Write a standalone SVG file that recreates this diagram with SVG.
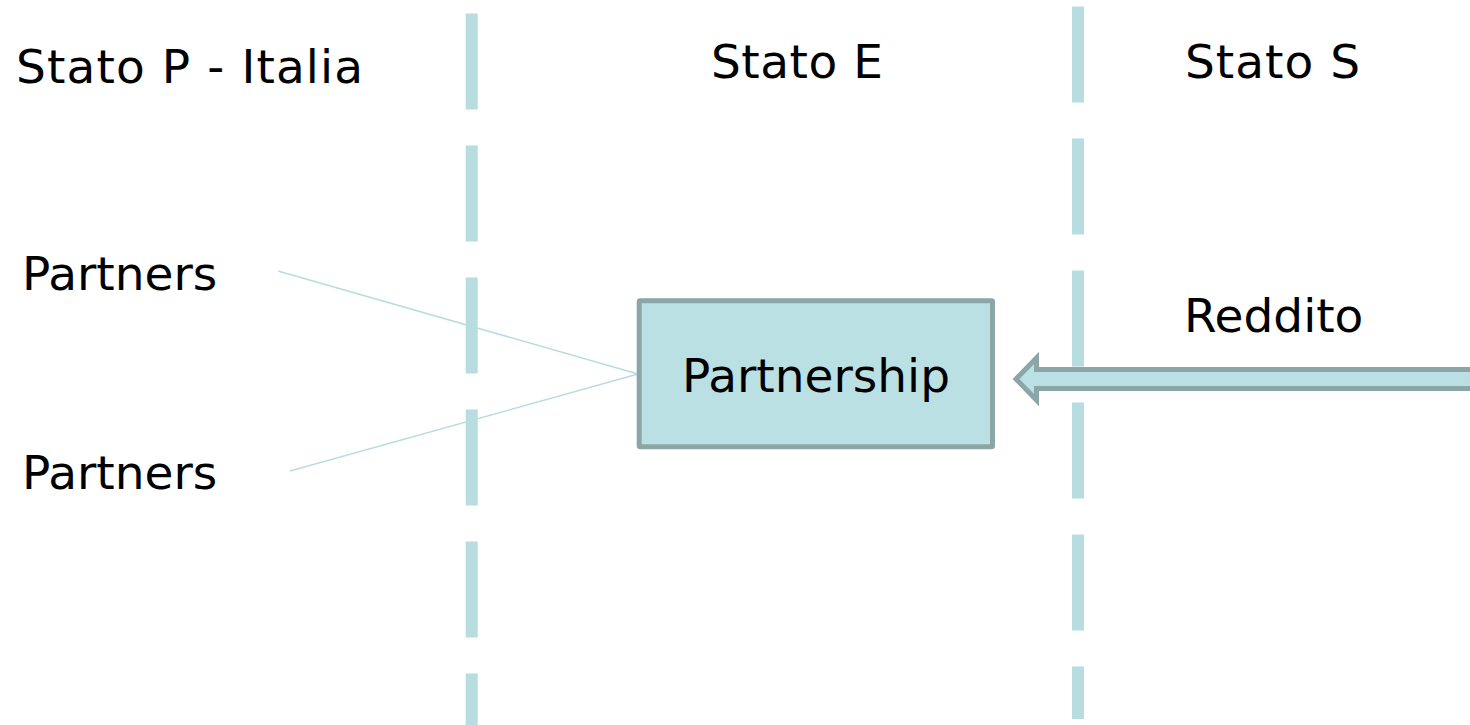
<svg xmlns="http://www.w3.org/2000/svg" width="1470" height="725" viewBox="0 0 1470 725">
  <style>
    .lbl { font-family: "DejaVu Sans", Verdana, sans-serif; font-size: 47px; fill: #000; }
    .border { fill: none; stroke: #b8dde0; stroke-width: 12; stroke-dasharray: 96 36; }
    .link { fill: none; stroke: #b8dde0; stroke-width: 1.5; }
    .box { fill: #bbe0e3; stroke: #8ca6a8; stroke-width: 5; }
  </style>
  <rect width="1470" height="725" fill="#fff"/>

  <!-- state borders -->
  <g id="borders">
    <line class="border" x1="471.7" y1="13.5" x2="471.7" y2="740"/>
    <line class="border" x1="1078" y1="6.5" x2="1078" y2="719"/>
  </g>

  <!-- column headings -->
  <g id="headings">
    <text class="lbl" x="16" y="83" textLength="347" lengthAdjust="spacing">Stato P - Italia</text>
    <text class="lbl" x="711" y="78" textLength="172" lengthAdjust="spacing">Stato E</text>
    <text class="lbl" x="1185" y="78" textLength="175" lengthAdjust="spacing">Stato S</text>
  </g>

  <g id="connectors">
    <line class="link" x1="278" y1="271" x2="638" y2="374"/>
    <line class="link" x1="290" y1="471" x2="638" y2="374"/>
    <!-- income flow arrow -->
    <polygon class="box" stroke-linejoin="miter" points="1016,379 1036.5,358 1036.5,369.5 1480,369.5 1480,388.5 1036.5,388.5 1036.5,400"/>
  </g>

  <g id="partner-top">
    <text class="lbl" x="22" y="290">Partners</text>
  </g>
  <g id="partner-bottom">
    <text class="lbl" x="22" y="489">Partners</text>
  </g>

  <g id="partnership">
    <rect class="box" x="639.2" y="300.8" width="353.3" height="146" rx="1"/>
    <text class="lbl" x="682" y="392">Partnership</text>
  </g>

  <g id="reddito">
    <text class="lbl" x="1184" y="332">Reddito</text>
  </g>
</svg>
